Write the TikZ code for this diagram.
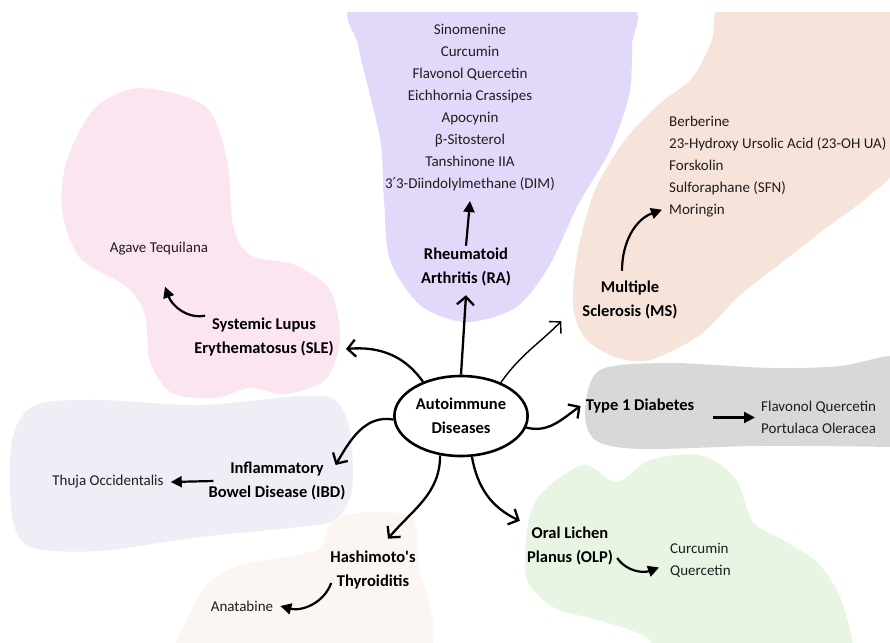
\documentclass[tikz,border=0pt]{standalone}
\usepackage{fontspec}
\setmainfont{Carlito}
\newfontfamily\simbolo{DejaVu Sans}
\usetikzlibrary{arrows.meta,shapes.geometric}

\definecolor{lila}{RGB}{226,217,250}
\definecolor{durazno}{RGB}{246,228,219}
\definecolor{rosa}{RGB}{251,229,241}
\definecolor{gris}{RGB}{216,216,216}
\definecolor{azulito}{RGB}{238,239,246}
\definecolor{verde}{RGB}{232,245,227}
\definecolor{crema}{RGB}{251,246,241}
\definecolor{texto}{RGB}{30,30,30}

\begin{document}
\begin{tikzpicture}[x=1pt,y=1pt,
    etiqueta/.style={font=\fontsize{16.5}{24}\selectfont\bfseries, align=center, inner sep=2pt},
    lista/.style={font=\fontsize{15}{22}\selectfont, text=texto, inner sep=2pt},
    rama/.style={line width=2.3pt, -{Straight Barb[length=8pt,width=17pt]}},
    ramita/.style={line width=2.2pt, -{Triangle[length=11pt,width=11pt]}}]

    \useasboundingbox (0,0) rectangle (890,-642);

    % Manchas de fondo
    \begin{scope}
        \clip (0,-13) rectangle (890,-642);
        \fill[lila] plot[smooth cycle] coordinates {(355,-5) (358,-45) (370,-95) (381,-145) (384,-200) (390,-260) (420,-305) (465,-322) (515,-308) (548,-268) (578,-205) (610,-150) (629,-95) (632,-45) (628,-5) (490,0)};
        \fill[durazno] plot[smooth cycle] coordinates {(722,-5) (712,-40) (692,-78) (658,-105) (625,-140) (595,-190) (578,-250) (573,-305) (585,-338) (615,-357) (650,-360) (700,-335) (740,-295) (785,-260) (830,-225) (870,-195) (900,-160) (920,-50) (890,0) (800,0)};
        \fill[rosa] plot[smooth cycle] coordinates {(140,-88) (95,-108) (67,-160) (62,-210) (80,-258) (127,-287) (145,-315) (150,-362) (172,-393) (215,-398) (250,-388) (285,-394) (325,-380) (340,-340) (330,-290) (295,-265) (250,-255) (233,-225) (227,-160) (205,-106)};
        \fill[azulito] plot[smooth cycle] coordinates {(35,-405) (100,-400) (200,-405) (300,-396) (335,-400) (350,-430) (352,-490) (335,-520) (300,-527) (200,-537) (100,-551) (30,-547) (12,-515) (12,-440)};
        \fill[gris] plot[smooth cycle] coordinates {(600,-370) (670,-363) (770,-368) (840,-366) (890,-356) (930,-360) (930,-450) (890,-447) (760,-446) (640,-449) (595,-440) (585,-410)};
        \fill[verde] plot[smooth cycle] coordinates {(527,-530) (540,-495) (583,-465) (617,-482) (650,-460) (700,-455) (735,-478) (753,-522) (783,-540) (818,-563) (840,-597) (852,-640) (855,-680) (660,-680) (650,-640) (605,-622) (555,-608) (527,-580)};
        \fill[crema] plot[smooth cycle] coordinates {(333,-520) (372,-512) (412,-518) (418,-560) (420,-660) (190,-660) (192,-610) (210,-582) (240,-565) (285,-557) (320,-548)};
    \end{scope}

    % Nodo central
    \node[ellipse, draw, line width=2.6pt, minimum width=112pt, minimum height=80pt, etiqueta] (auto) at (461,-416) {Autoimmune\\Diseases};

    % Enfermedades
    \node[etiqueta] (ra) at (466,-267) {Rheumatoid\\Arthritis (RA)};
    \node[etiqueta] (ms) at (630,-300) {Multiple\\Sclerosis (MS)};
    \node[etiqueta] (sle) at (264,-337) {Systemic Lupus\\Erythematosus (SLE)};
    \node[etiqueta] (t1d) at (640,-406) {Type 1 Diabetes};
    \node[etiqueta] (ibd) at (277,-481) {Inflammatory\\Bowel Disease (IBD)};
    \node[etiqueta] (hash) at (373,-570) {Hashimoto\textquotesingle s\\Thyroiditis};
    \node[etiqueta] (olp) at (570,-546) {Oral Lichen\\Planus (OLP)};

    % Compuestos
    \node[lista, align=center] (ralist) at (470,-107.5) {Sinomenine\\Curcumin\\Flavonol Quercetin\\Eichhornia Crassipes\\Apocynin\\β-Sitosterol\\Tanshinone IIA\\3{\simbolo ′}3-Diindolylmethane (DIM)};
    \node[lista, align=left, anchor=west] (mslist) at (667,-167) {Berberine\\23-Hydroxy Ursolic Acid (23-OH UA)\\Forskolin\\Sulforaphane (SFN)\\Moringin};
    \node[lista] (agave) at (159,-249) {Agave Tequilana};
    \node[lista, align=left, anchor=west] (t1dlist) at (759,-417.5) {Flavonol Quercetin\\Portulaca Oleracea};
    \node[lista] (thuja) at (108,-482) {Thuja Occidentalis};
    \node[lista] (anat) at (242,-606) {Anatabine};
    \node[lista, align=left, anchor=west] (olplist) at (668,-560.5) {Curcumin\\Quercetin};

    % Flechas desde el centro
    \draw[rama] (auto.north) -- ([yshift=-7pt]ra.south);
    \draw[rama] (auto.138) to[out=125,in=5] ([xshift=10pt,yshift=-12pt]sle.east);
    \draw[rama] (auto.183) to[out=170,in=60] ([xshift=-12pt,yshift=16pt]ibd.east);
    \draw[rama] (auto.-118) to[out=-90,in=50] ([xshift=15pt,yshift=10pt]hash.north);
    \draw[rama] (auto.-75) to[out=-80,in=155] ([xshift=-5pt,yshift=4pt]olp.north west);
    \draw[rama] (auto.-10) to[out=-15,in=215] ([xshift=-3pt]t1d.west);
    \draw[rama, line width=1.4pt] (auto.40) to[out=55,in=225] ([xshift=-19pt]ms.south west);

    % Flechas hacia los compuestos
    \draw[ramita] (ra.north) -- ([yshift=-8pt]ralist.south);
    \draw[ramita] ([xshift=13pt]sle.north west) to[out=190,in=-70] ([xshift=6pt,yshift=-29pt]agave.south);
    \draw[ramita] ([xshift=-8pt,yshift=8pt]ms.north) to[out=90,in=200] ([xshift=-5pt,yshift=10pt]mslist.south west);
    \draw[ramita, shorten <=17pt, shorten >=4pt] (t1d.east |- t1dlist.west) -- (t1dlist.west);
    \draw[ramita] ([xshift=7pt]ibd.west) -- ([xshift=5pt]thuja.east);
    \draw[ramita] ([xshift=3pt,yshift=-13pt]hash.west) to[out=-110,in=-15] ([xshift=5pt]anat.east);
    \draw[ramita] ([xshift=2pt,yshift=-12pt]olp.east) to[out=-55,in=200] ([xshift=-9pt,yshift=-7pt]olplist.west);
\end{tikzpicture}
\end{document}
